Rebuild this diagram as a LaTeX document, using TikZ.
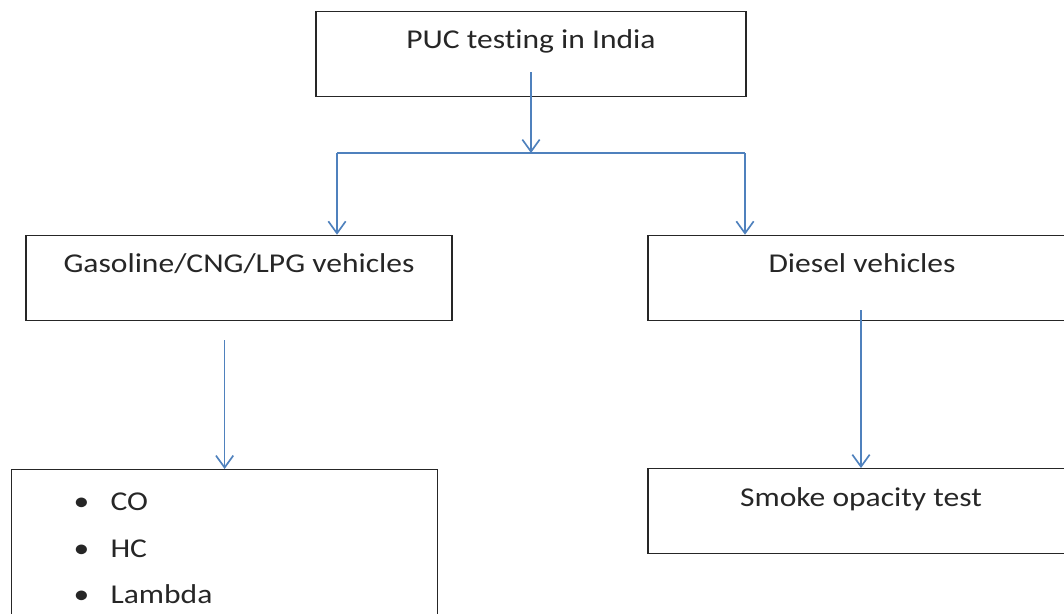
\documentclass[tikz,border=0pt]{standalone}
\usepackage{fontspec}
\setmainfont{Carlito}[FakeStretch=1.16, Ligatures=NoCommon]
\usetikzlibrary{arrows.meta, calc, positioning}
\definecolor{arrowblue}{RGB}{79,129,189}

\begin{document}
\begin{tikzpicture}[
        x=0.75pt, y=-0.75pt,
        every node/.style={draw=black!85, line width=0.9pt, inner ysep=0pt, text=black!85,
            font=\fontsize{20.4pt}{34.9pt}\selectfont, text height=28pt, text depth=36pt},
        level box/.style={minimum width=430*0.75pt},
        conn/.style={draw=arrowblue, line width=1.25pt},
        arr/.style={conn, -{Straight Barb[length=9pt, width=13pt, line width=1.25pt]}}
    ]
        \clip (0,0) rectangle (1064,614);

        % boxes
        \node[level box] (puc) at (531,54) {PUC testing in India};
        \node[level box, minimum width=426*0.75pt] (gas) at (239,278) {Gasoline/CNG/LPG vehicles};
        \node[level box, minimum width=428*0.75pt] (dsl) at (862,278) {Diesel vehicles};
        \node[level box, minimum width=426*0.75pt, text depth=35.5pt] (smk) at (861,511) {Smoke opacity test};
        \node[anchor=north west, align=left, inner xsep=46.5pt, text width=226.5pt,
              text height=30.75pt, text depth=150pt] (lst) at (11,469)
            {\makebox[27.75pt][l]{\textbullet}CO\\
             \makebox[27.75pt][l]{\textbullet}HC\\
             \makebox[27.75pt][l]{\textbullet}Lambda};

        % connectors
        \coordinate (hl) at (337,153);
        \coordinate (hr) at (745,153);
        \draw[arr] ($(puc.south)+(0,-25)$) -- (puc.south |- hl);
        \draw[conn] (hl) -- (hr);
        \draw[arr] (hl) -- (hl |- gas.north);
        \draw[arr] (hr) -- (hr |- dsl.north);
        \draw[arr] ($(gas.south -| lst.north)+(0,19)$) -- (lst.north);
        \draw[arr] ($(dsl.south -| smk.north)+(0,-11)$) -- (smk.north);
    \end{tikzpicture}
\end{document}
